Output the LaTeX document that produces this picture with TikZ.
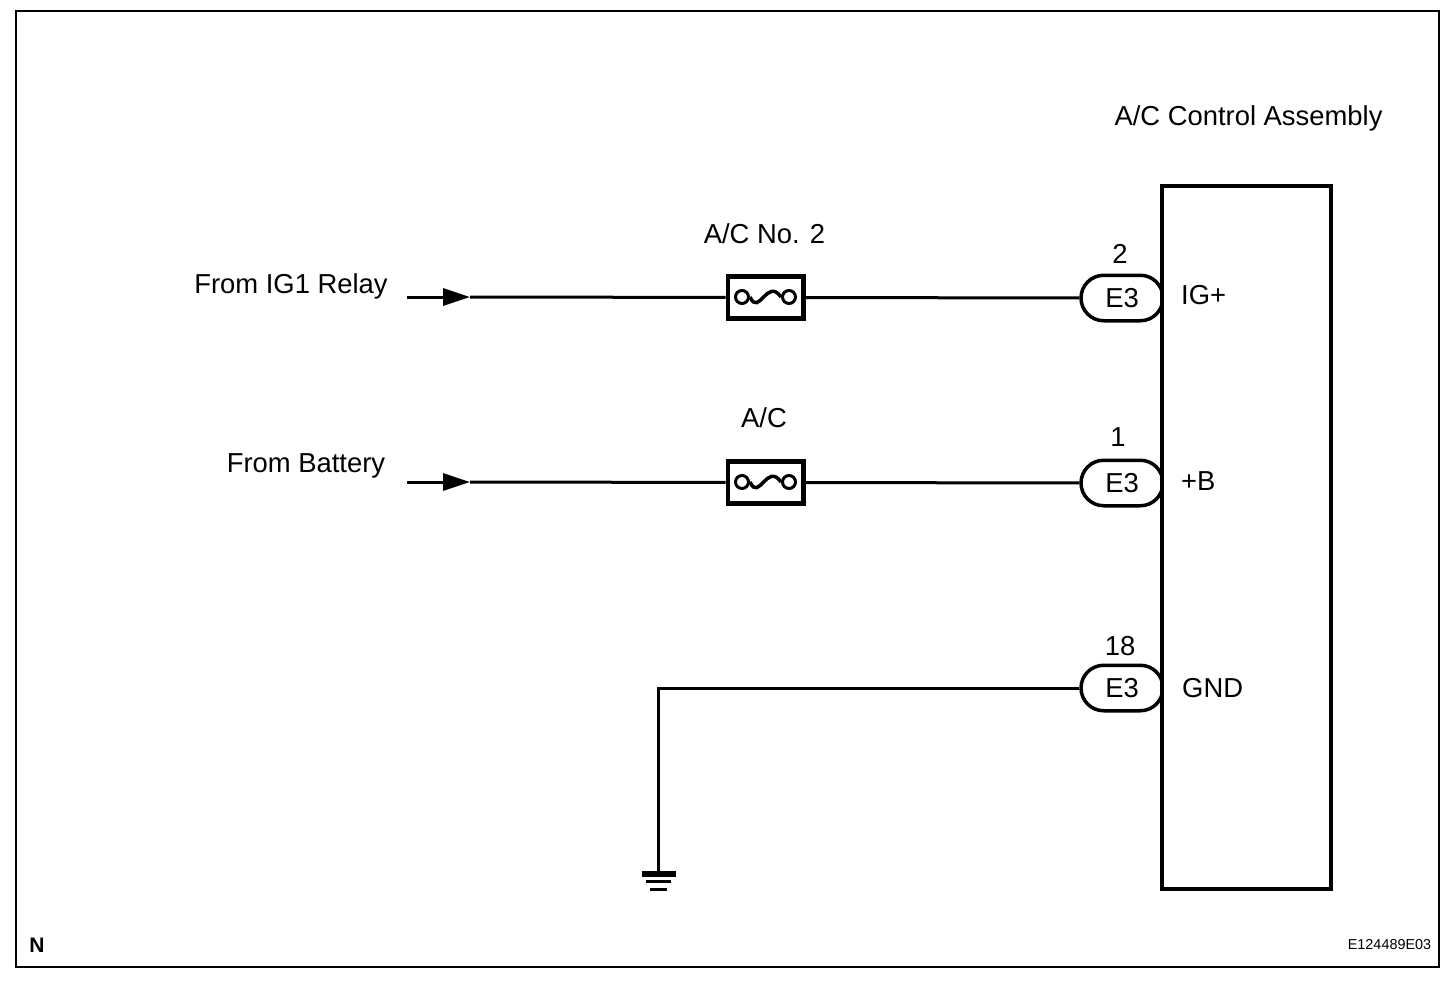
\documentclass[tikz,border=0pt]{standalone}
\usepackage{fontspec}
\setmainfont{Liberation Sans}
\usetikzlibrary{arrows.meta,shapes.misc}
\tikzset{
	wire/.style={line width=3pt},
	lbl/.style={font=\fontsize{27.4}{30}\selectfont,inner sep=0},
	fusebox/.style={draw,line width=4.5pt,minimum width=75.5pt,minimum height=42pt,inner sep=0},
	plug/.style={draw,rounded rectangle,line width=3.5pt,minimum width=82pt,minimum height=45.5pt,inner sep=0,font=\fontsize{27.4}{30}\selectfont},
	pin/.style={draw,circle,line width=3pt,minimum size=13pt,inner sep=0},
	gndbar/.style={inner sep=0,fill=black}
}
\begin{document}
\begin{tikzpicture}[x=1pt,y=-1pt]
\useasboundingbox (0,0) rectangle (1456,986);
\node[draw,line width=2.5pt,minimum width=1423pt,minimum height=956pt,inner sep=0] (frame) at (727.5,489) {};
% plugs sit under the unit outline
\node[plug] (igplug) at (1122,298) {E3};
\node[plug] (bplug) at (1122,483) {E3};
\node[plug] (gplug) at (1122,688) {E3};
\node[draw,fill=white,line width=4pt,minimum width=169pt,minimum height=703pt,inner sep=0] (unit) at (1246.5,537.5) {};
\node[lbl] (title) at (1248.5,118.5) {A/C Control Assembly};
% IG+ row
\coordinate (igstart) at (407,297);
\coordinate (igtip) at (470,297);
\node[fusebox] (igfuse) at (765.5,297.5) {};
\node[pin] (igpina) at (742,297) {};
\node[pin] (igpinb) at (789,297) {};
\draw[wire,line width=3.5pt] (igpina.east) .. controls (759,317) and (767,277) .. (igpinb.west);
\draw[wire,-{Triangle[length=27pt,width=17pt]}] (igstart) -- (igtip);
\draw[wire] (igtip) -- (igfuse);
\draw[wire] (igfuse) -- (igplug);
\node[lbl] (igfrom) at (291,286) {From IG1 Relay};
\node[lbl] (igname) at (764.5,234) {A/C No. 2};
\node[lbl] (ignum) at (1120,254) {2};
\node[lbl,anchor=west] (igterm) at (1181,295) {IG+};
% +B row
\coordinate (bstart) at (407,482);
\coordinate (btip) at (470,482);
\node[fusebox] (bfuse) at (765.5,482.5) {};
\node[pin] (bpina) at (742,482) {};
\node[pin] (bpinb) at (789,482) {};
\draw[wire,line width=3.5pt] (bpina.east) .. controls (759,502) and (767,462) .. (bpinb.west);
\draw[wire,-{Triangle[length=27pt,width=17pt]}] (bstart) -- (btip);
\draw[wire] (btip) -- (bfuse);
\draw[wire] (bfuse) -- (bplug);
\node[lbl] (bfrom) at (306,466) {From Battery};
\node[lbl] (bname) at (764,418) {A/C};
\node[lbl] (bnum) at (1118,437) {1};
\node[lbl,anchor=west] (bterm) at (1181,481) {+B};
% GND row
\node[gndbar,minimum width=34pt,minimum height=6pt] (gbara) at (659,874) {};
\node[gndbar,minimum width=25pt,minimum height=3pt] (gbarb) at (658.5,881.5) {};
\node[gndbar,minimum width=17pt,minimum height=3pt] (gbarc) at (658.5,889.5) {};
\draw[wire] (gplug) -- (658,688) -- (gbara.north -| 658,688);
\node[lbl] (gnum) at (1120,646) {18};
\node[lbl,anchor=west] (gterm) at (1182,688) {GND};
% corners
\node[inner sep=0,font=\fontsize{21}{24}\selectfont\bfseries] (mark) at (37,945) {N};
\node[inner sep=0,font=\fontsize{14.4}{18}\selectfont] (code) at (1389.5,945) {E124489E03};
\end{tikzpicture}
\end{document}
